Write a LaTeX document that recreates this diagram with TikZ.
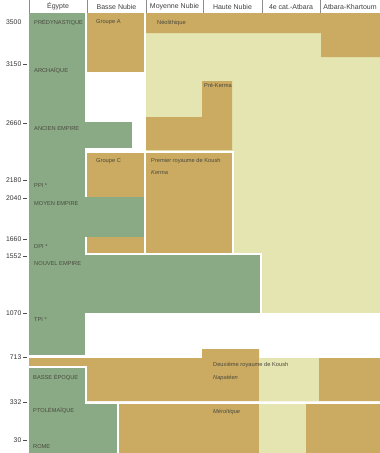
\documentclass[tikz,border=0pt]{standalone}
\usepackage{fontspec}
\setmainfont{Liberation Sans}
\definecolor{eg}{HTML}{8AAA85}
\definecolor{ocre}{HTML}{CBAA62}
\definecolor{pale}{HTML}{E5E5B2}
\definecolor{txt}{HTML}{4A4A3E}
\begin{document}
\begin{tikzpicture}[x=1pt,y=-1pt,
  hdr/.style={font=\fontsize{7}{8}\selectfont, text=black!75, inner sep=0},
  yr/.style={font=\fontsize{6.8}{8}\selectfont, text=black!80, anchor=east, inner sep=0},
  lab/.style={font=\fontsize{5.7}{7}\selectfont, text=txt, anchor=west, inner sep=0},
  labi/.style={font=\fontsize{5.7}{7}\selectfont\itshape, text=txt, anchor=west, inner sep=0},
  wb/.style={draw=white, line width=2pt},
  tickmark/.style={draw=black!70, line width=0.6pt},
  hline/.style={draw=black!45, line width=0.5pt}]
\useasboundingbox (0,0) rectangle (380,453);
\fill[white] (0,0) rectangle (380,453);
% light background of Moyenne Nubie -> Khartoum
\fill[pale] (146,33) rectangle (380,313);
% Neolithique band
\fill[ocre] (146,13) -- (380,13) -- (380,57) -- (321,57) -- (321,33) -- (146,33) -- cycle;
% Pre-Kerma / Moyenne Nubie
\fill[ocre] (146,117) -- (202,117) -- (202,81) -- (232,81) -- (232,150) -- (146,150) -- cycle;
% Egypt column
\fill[eg] (29,13) rectangle (85,355);
\fill[eg] (85,122) rectangle (132,148);
% Groupe A
\fill[ocre] (87,13) rectangle (144,72);
% Groupe C and Kerma
\path[fill=ocre, wb] (86,151.5) rectangle (144.5,254);
\path[fill=ocre, wb] (144.5,151.5) rectangle (232.5,254);
% Moyen Empire
\fill[eg] (29,197) rectangle (143.5,237);
% Nouvel Empire
\fill[eg] (29,254) rectangle (261,313);
\draw[wb] (85,254) -- (261,254) -- (261,313);
% Deuxieme royaume de Koush
\fill[ocre] (29,358) -- (202,358) -- (202,349) -- (259,349) -- (259,358) -- (380,358) -- (380,401) -- (29,401) -- cycle;
\fill[pale] (259,358) rectangle (319,401);
% Meroitique
\fill[ocre] (119,404) rectangle (380,453);
\fill[pale] (259,404) rectangle (306,453);
% Basse epoque / Ptolemaique / Rome
\fill[eg] (29,367) -- (86,367) -- (86,403) -- (118,403) -- (118,453) -- (29,453) -- cycle;
\draw[wb] (29,367) -- (86,367) -- (86,403) -- (118,403) -- (118,453);
% header
\foreach \xx in {29,87,146,203,262,320} \draw[hline] (\xx,0) -- (\xx,13);
\node[hdr] (h1) at (58,6.5) {Égypte};
\node[hdr] (h2) at (116.5,6.5) {Basse Nubie};
\node[hdr] (h3) at (174.5,6.5) {Moyenne Nubie};
\node[hdr] (h4) at (232.5,6.5) {Haute Nubie};
\node[hdr] (h5) at (291,6.5) {4e cat.-Atbara};
\node[hdr] (h6) at (350,6.5) {Atbara-Khartoum};
% years
\node[yr] (y1) at (21.5,22.5) {3500};
\node[yr] (y2) at (21.5,64) {3150};
\node[yr] (y3) at (21.5,123) {2660};
\node[yr] (y4) at (21.5,180) {2180};
\node[yr] (y5) at (21.5,198) {2040};
\node[yr] (y6) at (21.5,239.5) {1660};
\node[yr] (y7) at (21.5,256) {1552};
\node[yr] (y8) at (21.5,313) {1070};
\node[yr] (y9) at (21.5,357) {713};
\node[yr] (y10) at (21.5,402) {332};
\node[yr] (y11) at (21.5,440) {30};
\foreach \n in {y2,y3,y4,y5,y6,y7,y8,y9,y10,y11}
  \draw[tickmark] ([xshift=1.5pt]\n.east) -- ([xshift=5.5pt]\n.east);
% Egypt labels
\node[lab] (e1) at (34,22.5) {PRÉDYNASTIQUE};
\node[lab] (e2) at (34,71) {ARCHAÏQUE};
\node[lab] (e3) at (34,129) {ANCIEN EMPIRE};
\node[lab] (e4) at (34,186) {PPI *};
\node[lab] (e5) at (34,203.5) {MOYEN EMPIRE};
\node[lab] (e6) at (34,247) {DPI *};
\node[lab] (e7) at (34,264) {NOUVEL EMPIRE};
\node[lab] (e8) at (34,319.5) {TPI *};
\node[lab] (e9) at (33,378) {BASSE ÉPOQUE};
\node[lab] (e10) at (33,411) {PTOLÉMAÏQUE};
\node[lab] (e11) at (33,447) {ROME};
% Nubia labels
\node[lab] (n1) at (96,22.5) {Groupe A};
\node[lab] (n2) at (157,23) {Néolithique};
\node[lab] (n3) at (204,85.5) {Pré-Kerma};
\node[lab] (n4) at (96,161) {Groupe C};
\node[lab] (n5) at (151,161) {Premier royaume de Koush};
\node[labi] (n6) at (151,173) {Kerma};
\node[lab] (n7) at (213,365) {Deuxième royaume de Koush};
\node[labi] (n8) at (213,378) {Napatéen};
\node[labi] (n9) at (213,412) {Méroïtique};
\end{tikzpicture}
\end{document}
